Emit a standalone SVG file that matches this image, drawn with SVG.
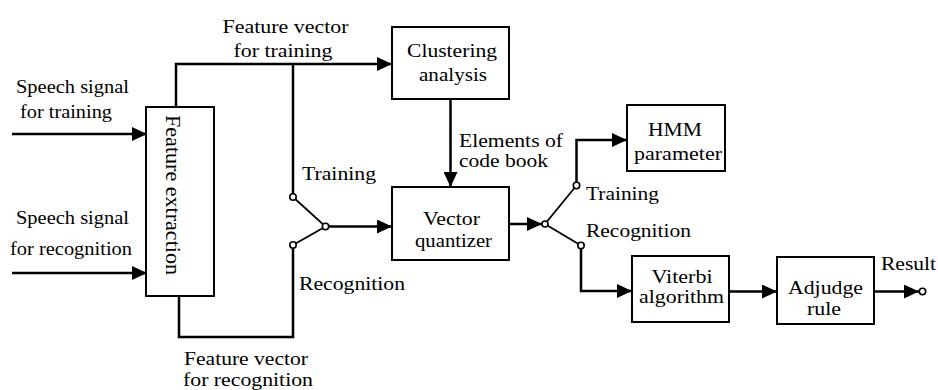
<svg xmlns="http://www.w3.org/2000/svg" width="938" height="390" viewBox="0 0 938 390">
<style>
text{font-family:'Liberation Serif','Times New Roman',Times,serif;font-size:19px;fill:#000}
.m{text-anchor:middle}
.box{fill:#fff;stroke:#000;stroke-width:2}
.w{fill:none;stroke:#000;stroke-width:2.5}
.sw{fill:none;stroke:#000;stroke-width:1.8}
.c{fill:#fff;stroke:#000;stroke-width:1.6}
</style>
<defs>
<marker id="ah" viewBox="0 0 15 14" refX="15" refY="7" markerWidth="15" markerHeight="14" markerUnits="userSpaceOnUse" orient="auto">
<path d="M0,0 L15,7 L0,14 Z" fill="#000"/>
</marker>
</defs>
<rect width="938" height="390" fill="#fff"/>

<g id="connectors">
<path class="w" d="M12,134 H147" marker-end="url(#ah)"/>
<path class="w" d="M12,273 H147" marker-end="url(#ah)"/>
<path class="w" d="M176,107 V64 H392" marker-end="url(#ah)"/>
<path class="w" d="M293,64 V194"/>
<path class="w" d="M179,296 V337 H293 V248"/>
<path class="sw" d="M293,197 L325.5,226.5 L293,245"/>
<path class="w" d="M325.5,226.5 H392" marker-end="url(#ah)"/>
<path class="w" d="M450.5,99 V187" marker-end="url(#ah)"/>
<path class="w" d="M509,224 H542" marker-end="url(#ah)"/>
<path class="sw" d="M576.5,185.5 L545,224 L581,245.5"/>
<path class="w" d="M576.5,182.5 V140 H627" marker-end="url(#ah)"/>
<path class="w" d="M581,248.5 V291 H632" marker-end="url(#ah)"/>
<path class="w" d="M729,291.5 H777" marker-end="url(#ah)"/>
<path class="w" d="M874,291.5 H919" marker-end="url(#ah)"/>
<circle class="c" cx="293" cy="197" r="3.2"/>
<circle class="c" cx="293" cy="245" r="3.2"/>
<circle class="c" cx="325.5" cy="226.5" r="3.2"/>
<circle class="c" cx="545" cy="224" r="3"/>
<circle class="c" cx="576.5" cy="185.5" r="3.2"/>
<circle class="c" cx="581" cy="245.5" r="3.2"/>
<circle class="c" cx="922.5" cy="291.5" r="3.2"/>
</g>

<g id="labels">
<text class="m" x="285.5" y="33" textLength="126" lengthAdjust="spacingAndGlyphs">Feature vector</text>
<text class="m" x="283" y="57" textLength="99" lengthAdjust="spacingAndGlyphs">for training</text>
<text x="16" y="93" textLength="113" lengthAdjust="spacingAndGlyphs">Speech signal</text>
<text x="20" y="118" textLength="92" lengthAdjust="spacingAndGlyphs">for training</text>
<text x="16" y="224" textLength="113" lengthAdjust="spacingAndGlyphs">Speech signal</text>
<text x="10" y="255" textLength="122" lengthAdjust="spacingAndGlyphs">for recognition</text>
<text x="302" y="180" textLength="74" lengthAdjust="spacingAndGlyphs">Training</text>
<text x="299" y="290" textLength="106" lengthAdjust="spacingAndGlyphs">Recognition</text>
<text class="m" x="246" y="365" textLength="124" lengthAdjust="spacingAndGlyphs">Feature vector</text>
<text class="m" x="248" y="386" textLength="130" lengthAdjust="spacingAndGlyphs">for recognition</text>
<text x="459" y="147" textLength="104" lengthAdjust="spacingAndGlyphs">Elements of</text>
<text x="459" y="167" textLength="89" lengthAdjust="spacingAndGlyphs">code book</text>
<text x="586" y="200" textLength="73" lengthAdjust="spacingAndGlyphs">Training</text>
<text x="586" y="237" textLength="105" lengthAdjust="spacingAndGlyphs">Recognition</text>
<text x="881" y="270" textLength="55" lengthAdjust="spacingAndGlyphs">Result</text>
</g>

<g id="feature-extraction">
<rect class="box" x="146" y="107" width="68" height="189"/>
<text class="m" style="font-size:21px" transform="translate(166,195) rotate(90)" textLength="160" lengthAdjust="spacingAndGlyphs">Feature extraction</text>
</g>

<g id="clustering-analysis">
<rect class="box" x="392" y="27" width="117" height="72"/>
<text class="m" x="452" y="57" textLength="90" lengthAdjust="spacingAndGlyphs">Clustering</text>
<text class="m" x="453" y="81" textLength="68" lengthAdjust="spacingAndGlyphs">analysis</text>
</g>

<g id="vector-quantizer">
<rect class="box" x="392" y="187" width="117" height="73"/>
<text class="m" x="451.5" y="225" textLength="57" lengthAdjust="spacingAndGlyphs">Vector</text>
<text class="m" x="453.5" y="247" textLength="77" lengthAdjust="spacingAndGlyphs">quantizer</text>
</g>

<g id="hmm-parameter">
<rect class="box" x="627" y="105" width="98" height="66"/>
<text class="m" x="675" y="136" textLength="54" lengthAdjust="spacingAndGlyphs">HMM</text>
<text class="m" x="678" y="160" textLength="88" lengthAdjust="spacingAndGlyphs">parameter</text>
</g>

<g id="viterbi-algorithm">
<rect class="box" x="632" y="256" width="97" height="66"/>
<text class="m" style="font-size:18px" x="682" y="283" textLength="61" lengthAdjust="spacingAndGlyphs">Viterbi</text>
<text class="m" style="font-size:18px" x="681.5" y="303" textLength="85" lengthAdjust="spacingAndGlyphs">algorithm</text>
</g>

<g id="adjudge-rule">
<rect class="box" x="777" y="257" width="97" height="67"/>
<text class="m" x="825.5" y="294" textLength="75" lengthAdjust="spacingAndGlyphs">Adjudge</text>
<text class="m" x="824" y="315" textLength="34" lengthAdjust="spacingAndGlyphs">rule</text>
</g>
</svg>
